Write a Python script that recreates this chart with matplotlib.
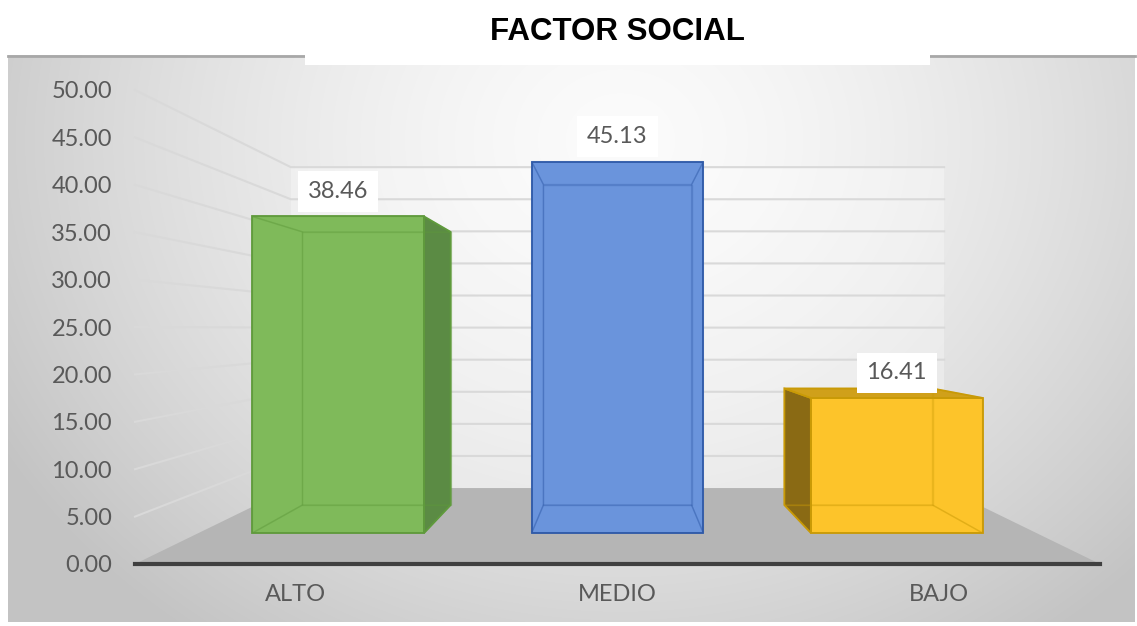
import numpy as np
import matplotlib
matplotlib.use("Agg")
import matplotlib.pyplot as plt
from matplotlib.patches import Polygon, Rectangle

# datos del grafico
categorias = ["ALTO", "MEDIO", "BAJO"]
porcentajes = [38.46, 45.13, 16.41]
marcas_y = np.arange(0, 55, 5)

# estilo de cada barra (frente, lado, tapa, borde)
col_frente = ["#7fba5a", "#6a94dc", "#fdc42a"]
col_lado = ["#5b8b44", "#4069b0", "#8a6a14"]
col_tapa = ["#6fa64c", "#5a84cc", "#d0a01a"]
col_borde = ["#5f9a3c", "#2f5aa8", "#c99a06"]

# perspectiva: punto de fuga en unidades de datos y escala de profundidad
FUGA_X, FUGA_Y = 1.5, 24.8
S_FONDO = 0.677
S_FRENTE_BARRA, S_FONDO_BARRA = 0.868, 0.749
ANCHO = 0.615

GRIS_TEXTO = "#595959"
FUENTE = "Lato"

W, H = 1137, 626


def proyectar(x, v, s):
    return (FUGA_X + s * (x - FUGA_X), FUGA_Y + s * (v - FUGA_Y))


fig = plt.figure(figsize=(W / 100, H / 100), dpi=100)

# fondo con degradado radial
bg = fig.add_axes([0, 0, 1, 1])
bg.set_xlim(0, W)
bg.set_ylim(H, 0)
bg.axis("off")
px0, px1, py0, py1 = 8, 1135, 55, 622
yy, xx = np.mgrid[py0:py1, px0:px1]
r = np.sqrt(((xx - 620) / 720.0) ** 2 + ((yy - 140) / 620.0) ** 2)
r = np.clip(r, 0, 1)
tono = 0.985 - 0.22 * r ** 1.5
bg.imshow(np.dstack([tono, tono, tono]), extent=(px0, px1, py1, py0),
          origin="upper", aspect="auto", zorder=0)
bg.plot([px0, px1], [py0 + 1, py0 + 1], color="#a8a8a8", lw=2, zorder=1)
bg.add_patch(Rectangle((305, 0), 625, 65, facecolor="white",
                       edgecolor="none", zorder=2))
fig.text(617 / W, 1 - 32 / H, "FACTOR SOCIAL", ha="center", va="center",
         fontsize=22.5, fontweight="bold", family="Liberation Sans",
         color="black")

# area de trazado
ax = fig.add_axes([135 / W, (H - 564) / H, 965 / W, 474 / H])
ax.set_xlim(0, 3)
ax.set_ylim(0, 50)
ax.patch.set_visible(False)
for lado in ["top", "right", "left"]:
    ax.spines[lado].set_visible(False)
ax.spines["bottom"].set_color("#404040")
ax.spines["bottom"].set_linewidth(3)
ax.spines["bottom"].set_zorder(6)

# piso
piso = [proyectar(0, 0, 1), proyectar(3, 0, 1),
        proyectar(3, 0, S_FONDO), proyectar(0, 0, S_FONDO)]
ax.add_patch(Polygon(piso, closed=True, facecolor="#b5b5b5",
                     edgecolor="none", zorder=1, clip_on=False))

# pared del fondo
pared = [proyectar(0, 0, S_FONDO), proyectar(3, 0, S_FONDO),
         proyectar(3, 50, S_FONDO), proyectar(0, 50, S_FONDO)]
ax.add_patch(Polygon(pared, closed=True, facecolor="white", alpha=0.3,
                     edgecolor="none", zorder=1, clip_on=False))

# lineas de division en pared lateral y pared del fondo
for t in marcas_y[1:]:
    p1 = proyectar(0, t, 1)
    p2 = proyectar(0, t, S_FONDO)
    p3 = proyectar(3, t, S_FONDO)
    ax.plot([p1[0], p2[0], p3[0]], [p1[1], p2[1], p3[1]],
            color="#d9d9d9", lw=1.5, zorder=2, clip_on=False)

# barras 3D
for i, (cat, val) in enumerate(zip(categorias, porcentajes)):
    c = i + 0.5
    x0, x1 = c - ANCHO / 2, c + ANCHO / 2
    sf, sb = S_FRENTE_BARRA, S_FONDO_BARRA
    caras = {
        "frente": [(x0, 0, sf), (x1, 0, sf), (x1, val, sf), (x0, val, sf)],
        "fondo": [(x0, 0, sb), (x1, 0, sb), (x1, val, sb), (x0, val, sb)],
        "izq": [(x0, 0, sb), (x0, 0, sf), (x0, val, sf), (x0, val, sb)],
        "der": [(x1, 0, sb), (x1, 0, sf), (x1, val, sf), (x1, val, sb)],
        "tapa": [(x0, val, sf), (x1, val, sf), (x1, val, sb), (x0, val, sb)],
        "base": [(x0, 0, sf), (x1, 0, sf), (x1, 0, sb), (x0, 0, sb)],
    }
    visibles = {
        "frente": True,
        "fondo": False,
        "izq": x0 > FUGA_X,
        "der": x1 < FUGA_X,
        "tapa": val < FUGA_Y,
        "base": False,
    }
    relleno = {"frente": col_frente[i], "izq": col_lado[i],
               "der": col_lado[i], "tapa": col_tapa[i]}
    for nombre, pts in caras.items():
        if not visibles[nombre]:
            continue
        poly = [proyectar(*p) for p in pts]
        ax.add_patch(Polygon(poly, closed=True, facecolor=relleno[nombre],
                             edgecolor=col_borde[i], lw=1.3, zorder=3,
                             clip_on=False))
    # aristas ocultas vistas a traves de la transparencia
    for nombre, pts in caras.items():
        if visibles[nombre]:
            continue
        poly = [proyectar(*p) for p in pts]
        ax.add_patch(Polygon(poly, closed=True, facecolor="none",
                             edgecolor=col_borde[i], lw=1.0, alpha=0.3,
                             zorder=4, clip_on=False))

    # etiqueta de valor
    ex, ey = proyectar(c, val, sf)
    ax.annotate(f"{val:.2f}", xy=(ex, ey), xytext=(0, 18),
                textcoords="offset points", ha="center", va="center",
                fontsize=17, family=FUENTE, color=GRIS_TEXTO, zorder=7,
                bbox=dict(boxstyle="square,pad=0.42", facecolor="white",
                          edgecolor="none"),
                annotation_clip=False)

# ejes
ax.set_yticks(marcas_y)
ax.set_yticklabels([f"{t:.2f}" for t in marcas_y])
ax.set_xticks([i + 0.5 for i in range(len(categorias))])
ax.set_xticklabels(categorias)
ax.tick_params(axis="y", length=0, pad=16.5, labelsize=17,
               labelcolor=GRIS_TEXTO)
ax.tick_params(axis="x", length=0, pad=14.5, labelsize=17,
               labelcolor=GRIS_TEXTO)
for lbl in ax.get_xticklabels() + ax.get_yticklabels():
    lbl.set_family(FUENTE)

fig.savefig("out.png", dpi=100)
